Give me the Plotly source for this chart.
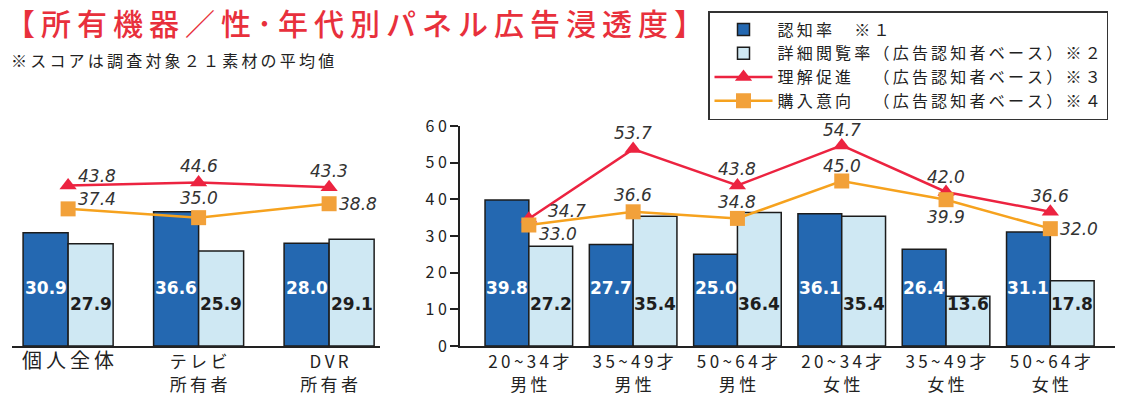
import plotly.graph_objects as go

# ---------------- data ----------------
left_categories = ["個人全体", "テレビ<br>所有者", "DVR<br>所有者"]
left_awareness = [30.9, 36.6, 28.0]
left_detail = [27.9, 25.9, 29.1]
left_understanding = [43.8, 44.6, 43.3]
left_purchase = [37.4, 35.0, 38.8]

right_categories = ["20~34才<br>男性", "35~49才<br>男性", "50~64才<br>男性",
                    "20~34才<br>女性", "35~49才<br>女性", "50~64才<br>女性"]
right_awareness = [39.8, 27.7, 25.0, 36.1, 26.4, 31.1]
right_detail = [27.2, 35.4, 36.4, 35.4, 13.6, 17.8]
right_understanding = [34.7, 53.7, 43.8, 54.7, 42.0, 36.6]
right_purchase = [33.0, 36.6, 34.8, 45.0, 39.9, 32.0]

y_ticks = [0, 10, 20, 30, 40, 50, 60]

series_names = ["認知率　※１", "詳細閲覧率（広告認知者ベース）※２",
                "理解促進　（広告認知者ベース）※３", "購入意向　（広告認知者ベース）※４"]

title_text = "【所有機器／性･年代別パネル広告浸透度】"
note_text = "※スコアは調査対象２１素材の平均値"

# ---------------- style ----------------
W, H = 1130, 394
DARK = "#2468b1"
LIGHT = "#cfe8f3"
RED = "#ec2340"
ORANGE_LINE = "#f6a21e"
ORANGE_MK = "#f2a13a"
EDGE = "#1c1c1c"
TXT = "#222222"
JP = "Noto Sans CJK JP"
WL = 0.345   # bar width (category units), left panel
WR = 0.42    # bar width (category units), right panel
DARK_LABEL_Y = 15.8
LIGHT_LABEL_Y = 11.5

# label offsets (pixels: xshift, yshift) for the line value labels
left_red_off = [(29, 9), (0, 16), (0, 16)]
left_orange_off = [(29, 10), (0, 20), (29, 0)]
right_red_off = [(38, 8), (0, 16), (0, 16), (0, 15), (0, 15), (0, 16)]
right_orange_off = [(29, -9), (0, 17), (0, 16), (0, 15), (0, -17), (29, 0)]


def px_x(p):
    return p / W


def px_y(p):
    return 1 - p / H


def spaced(s, sep="\u2009"):
    return "<br>".join(sep.join(list(line)) for line in s.split("<br>"))


def left_tick(c):
    t = spaced(c)
    if "<br>" not in c:
        t = f"<span style='font-size:20px'>{t}</span>"
    return t


y_dom = [px_y(346), px_y(126)]

fig = go.Figure()

bar_line = dict(color=EDGE, width=1.5)

# right panel (carries legend)
fig.add_trace(go.Bar(x=right_categories, y=right_awareness, width=WR, offset=-WR,
                     marker=dict(color=DARK, line=bar_line), name=spaced(series_names[0]),
                     xaxis="x2", yaxis="y2", legendrank=1))
fig.add_trace(go.Bar(x=right_categories, y=right_detail, width=WR, offset=0,
                     marker=dict(color=LIGHT, line=bar_line), name=spaced(series_names[1]),
                     xaxis="x2", yaxis="y2", legendrank=2))
# left panel bars
fig.add_trace(go.Bar(x=left_categories, y=left_awareness, width=WL, offset=-WL,
                     marker=dict(color=DARK, line=bar_line), showlegend=False,
                     xaxis="x", yaxis="y"))
fig.add_trace(go.Bar(x=left_categories, y=left_detail, width=WL, offset=0,
                     marker=dict(color=LIGHT, line=bar_line), showlegend=False,
                     xaxis="x", yaxis="y"))


def line_trace(x, y, color, mcolor, symbol, name, xa, ya, show, rank):
    return go.Scatter(x=x, y=y, mode="lines+markers",
                      line=dict(color=color, width=2.5),
                      marker=dict(symbol=symbol, size=15, color=mcolor),
                      cliponaxis=False, name=name, showlegend=show, legendrank=rank,
                      xaxis=xa, yaxis=ya)


fig.add_trace(line_trace(right_categories, right_understanding, RED, RED,
                         "triangle-up", spaced(series_names[2]), "x2", "y2", True, 3))
fig.add_trace(line_trace(right_categories, right_purchase, ORANGE_LINE, ORANGE_MK,
                         "square", spaced(series_names[3]), "x2", "y2", True, 4))
fig.add_trace(line_trace(left_categories, left_understanding, RED, RED,
                         "triangle-up", "", "x", "y", False, 5))
fig.add_trace(line_trace(left_categories, left_purchase, ORANGE_LINE, ORANGE_MK,
                         "square", "", "x", "y", False, 6))

annotations = []
bar_font_w = dict(family="DejaVu Sans", size=17, color="white", weight="bold")
bar_font_d = dict(family="DejaVu Sans", size=17, color="#1e1e1e", weight="bold")
for xa, ya, w, dark, light in [("x", "y", WL, left_awareness, left_detail),
                               ("x2", "y2", WR, right_awareness, right_detail)]:
    for i, (a, b) in enumerate(zip(dark, light)):
        annotations.append(dict(x=i - w / 2, y=DARK_LABEL_Y, xref=xa, yref=ya, text=f"{a:.1f}",
                                showarrow=False, font=bar_font_w))
        annotations.append(dict(x=i + w / 2, y=LIGHT_LABEL_Y, xref=xa, yref=ya, text=f"{b:.1f}",
                                showarrow=False, font=bar_font_d))

line_font = dict(family="DejaVu Sans", size=17, color="#333333", style="italic")
for xa, ya, cats, vals, offs in [("x", "y", left_categories, left_understanding, left_red_off),
                                 ("x", "y", left_categories, left_purchase, left_orange_off),
                                 ("x2", "y2", right_categories, right_understanding, right_red_off),
                                 ("x2", "y2", right_categories, right_purchase, right_orange_off)]:
    for c, v, (dx, dy) in zip(cats, vals, offs):
        annotations.append(dict(x=c, y=v, xref=xa, yref=ya, text=f"{v:.1f}", showarrow=False,
                                xshift=dx, yshift=dy, font=line_font))

annotations.append(dict(x=px_x(3), y=px_y(-2), xref="paper", yref="paper", xanchor="left", yanchor="top",
                        text=spaced(title_text), showarrow=False,
                        font=dict(family=JP, size=30, color="#e8303c", weight=500)))
annotations.append(dict(x=px_x(9), y=px_y(46), xref="paper", yref="paper", xanchor="left", yanchor="top",
                        text=spaced(note_text), showarrow=False,
                        font=dict(family=JP, size=16, color=TXT)))

tick_font = dict(family=JP, size=17, color=TXT)

fig.update_layout(
    width=W, height=H, margin=dict(l=0, r=0, t=0, b=0, autoexpand=False),
    paper_bgcolor="white", plot_bgcolor="rgba(0,0,0,0)",
    barmode="overlay", showlegend=True,
    xaxis=dict(domain=[px_x(12), px_x(380)], type="category", range=[-0.43, 2.39],
               showline=True, linecolor=TXT, linewidth=2, ticks="", showgrid=False, zeroline=False,
               tickvals=left_categories, ticktext=[left_tick(c) for c in left_categories],
               tickfont=tick_font, anchor="y", automargin=False),
    yaxis=dict(domain=y_dom, range=[0, 60], visible=False, anchor="x", automargin=False),
    xaxis2=dict(domain=[px_x(460), px_x(1115)], type="category", range=[-0.66, 5.62],
                showline=True, linecolor=TXT, linewidth=2, ticks="", showgrid=False, zeroline=False,
                tickvals=right_categories, ticktext=[spaced(c) for c in right_categories],
                tickfont=tick_font, anchor="y2", automargin=False),
    yaxis2=dict(domain=y_dom, range=[0, 60], anchor="x2", showline=True, linecolor=TXT, linewidth=2,
                ticks="outside", ticklen=8, tickwidth=2, tickcolor=TXT, showgrid=False, zeroline=False,
                tickvals=y_ticks, ticktext=[" ".join(str(t)) for t in y_ticks],
                tickfont=dict(family=JP, size=16, color=TXT), automargin=False),
    legend=dict(x=px_x(708), y=px_y(11), xanchor="left", yanchor="top",
                bordercolor="#333333", borderwidth=1.5, bgcolor="white",
                font=dict(family=JP, size=16, color=TXT), traceorder="normal",
                itemwidth=58, tracegroupgap=0),
    annotations=annotations,
)

fig.write_html("out.html")
